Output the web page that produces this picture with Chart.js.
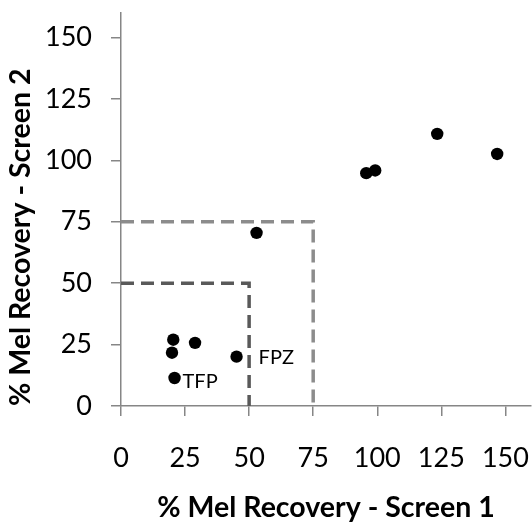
<!DOCTYPE html>
<html>
<head>
<meta charset="utf-8">
<script src="https://cdn.jsdelivr.net/npm/chart.js@4.4.0/dist/chart.umd.min.js"></script>
<style>
  html, body { margin: 0; padding: 0; background: #fff; }
  #wrap { width: 532px; height: 525px; }
</style>
</head>
<body>
<div id="wrap"><canvas id="chart"></canvas></div>
<script>
// screen 1 vs screen 2 recovery (%)
const screen1 = [20.4, 19.9, 28.9, 20.9, 45.1, 52.9, 95.7, 99.2, 123.4, 146.8];
const screen2 = [27.0, 21.7, 25.7, 11.4, 20.1, 70.5, 94.8, 95.9, 110.8, 102.6];
const pointNames = ['', '', '', 'TFP', 'FPZ', '', '', '', '', ''];

// threshold boxes
const box50 = [[0, 50], [50, 50], [50, 0]];
const box75 = [[0, 75], [75, 75], [75, 0]];

const tickValues = [0, 25, 50, 75, 100, 125, 150];
const axisMax = 160;

const FONT = 'Lato';

const pointLabels = {
    id: 'pointLabels',
    afterDatasetsDraw(chart) {
        const ctx = chart.ctx;
        const xs = chart.scales.x, ys = chart.scales.y;
        ctx.save();
        ctx.font = `20px ${FONT}`;
        ctx.fillStyle = '#000';
        ctx.textBaseline = 'middle';
        ctx.textAlign = 'left';
        pointNames.forEach((name, i) => {
            if (!name) return;
            const px = xs.getPixelForValue(screen1[i]);
            const py = ys.getPixelForValue(screen2[i]);
            if (name === 'TFP') ctx.fillText(name, px + 8, py + 4);
            else ctx.fillText(name, px + 22, py + 1);
        });
        ctx.restore();
    }
};

const toPts = arr => arr.map(p => ({ x: p[0], y: p[1] }));

function axis(title, isY) {
    return {
        type: 'linear',
        min: 0,
        max: axisMax,
        afterBuildTicks: s => { s.ticks = tickValues.map(v => ({ value: v })); },
        afterFit: s => {
            if (isY) s.width = 121; else s.height = 119;
            s.paddingTop = s.paddingBottom = s.paddingLeft = s.paddingRight = 0;
        },
        grid: { display: true, drawOnChartArea: false, drawTicks: true, tickLength: 10, color: '#868686', lineWidth: 1.5 },
        border: { display: true, color: '#868686', width: 1.5 },
        ticks: { color: '#000', font: { family: FONT, size: 27 }, padding: isY ? 19 : 26 },
        title: {
            display: true, text: title, color: '#000',
            align: isY ? 'start' : 'center',
            font: { family: FONT, size: 28.5, weight: 'bold' },
            padding: isY ? { top: 4, bottom: 0 } : { top: 0, bottom: 0 }
        }
    };
}

new Chart(document.getElementById('chart'), {
    type: 'scatter',
    data: {
        datasets: [
            {
                label: 'points',
                data: screen1.map((x, i) => ({ x, y: screen2[i] })),
                backgroundColor: '#000',
                borderColor: '#000',
                borderWidth: 0,
                pointRadius: 6.2,
                pointHoverRadius: 6.2,
                order: 0
            },
            {
                label: '50',
                data: toPts(box50),
                showLine: true,
                borderColor: '#595959',
                borderWidth: 3.5,
                borderDash: [13, 7],
                pointRadius: 0,
                fill: false,
                order: 1
            },
            {
                label: '75',
                data: toPts(box75),
                showLine: true,
                borderColor: '#8c8c8c',
                borderWidth: 3.5,
                borderDash: [13, 7],
                pointRadius: 0,
                fill: false,
                order: 2
            }
        ]
    },
    options: {
        responsive: true,
        maintainAspectRatio: false,
        animation: false,
        layout: { autoPadding: false, padding: { top: 13, right: 1, left: 0, bottom: 0 } },
        plugins: { legend: { display: false }, tooltip: { enabled: false } },
        scales: {
            x: axis('% Mel Recovery - Screen 1', false),
            y: axis('% Mel Recovery - Screen 2', true)
        }
    },
    plugins: [pointLabels]
});
</script>
</body>
</html>
